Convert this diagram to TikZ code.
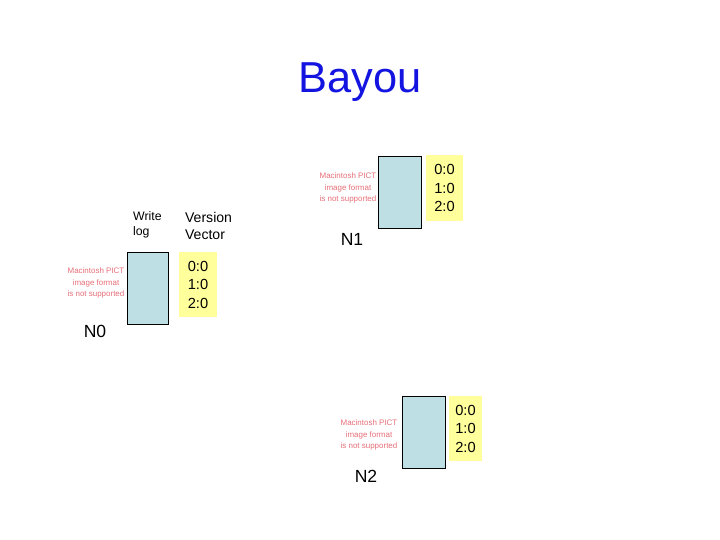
\documentclass[tikz,border=0pt]{standalone}
\usepackage{fontspec}
\setmainfont{Liberation Sans}
\definecolor{logblue}{RGB}{190,223,227}
\definecolor{vecyellow}{RGB}{255,255,156}
\definecolor{pictred}{RGB}{230,110,120}
\definecolor{titleblue}{RGB}{20,20,225}
\begin{document}
\begin{tikzpicture}[x=0.03cm, y=-0.03cm,
  logbox/.style={draw=black, fill=logblue, thick},
  vecnode/.style={fill=vecyellow, inner sep=0pt, minimum width=1.14cm, minimum height=1.95cm,
    align=center, font=\fontsize{12.5}{15.8}\selectfont},
  pict/.style={text=pictred, align=center, inner sep=0pt, font=\fontsize{6.8}{9.6}\selectfont},
  site/.style={font=\fontsize{15}{18}\selectfont}]
  \useasboundingbox (0,0) rectangle (720,540);

  % Titre
  \node[text=titleblue, font=\fontsize{37}{44}\selectfont] (title) at (360,82) {Bayou};

  % N0
  \node[pict] (pict0) at (96,283) {Macintosh PICT\\image format\\is not supported};
  \draw[logbox] (127,252) rectangle (168,324);
  \node[vecnode] (vec0) at (198,284.5) {0:0\\1:0\\2:0};
  \node[align=left, font=\fontsize{10.5}{13}\selectfont, anchor=west] (wlog) at (129,225) {Write\\log};
  \node[align=left, font=\fontsize{12}{15}\selectfont, anchor=west] (vvec) at (181,226) {Version\\Vector};
  \node[site] (n0) at (95,331) {N0};

  % N1
  \node[pict] (pict1) at (348,188) {Macintosh PICT\\image format\\is not supported};
  \draw[logbox] (378,156) rectangle (421,228);
  \node[vecnode, minimum width=1.11cm, minimum height=1.98cm] (vec1) at (444.5,188) {0:0\\1:0\\2:0};
  \node[site] (n1) at (352,239) {N1};

  % N2
  \node[pict] (pict2) at (369,435) {Macintosh PICT\\image format\\is not supported};
  \draw[logbox] (402,396) rectangle (445,468);
  \node[vecnode, minimum width=0.99cm, minimum height=1.95cm] (vec2) at (465.5,428.5) {0:0\\1:0\\2:0};
  \node[site] (n2) at (366,476) {N2};
\end{tikzpicture}
\end{document}
